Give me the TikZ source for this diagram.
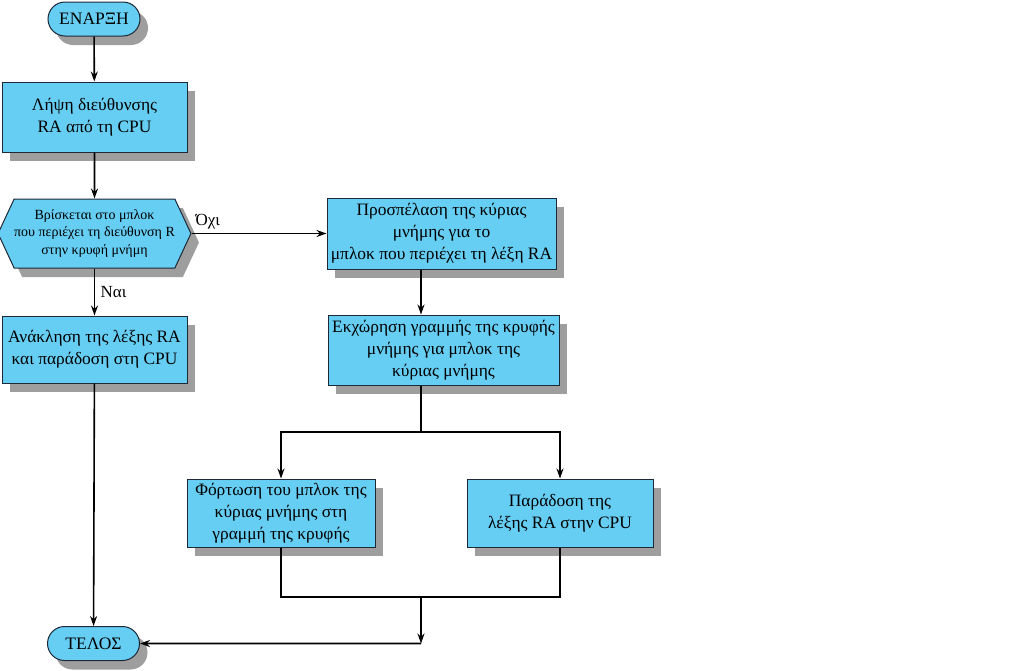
\documentclass[tikz,border=0pt]{standalone}
\usepackage{fontspec}
\setmainfont{Liberation Serif}
\usetikzlibrary{shapes.misc,shapes.symbols,shadows,arrows.meta}
\definecolor{boxblue}{RGB}{102,205,243}
\definecolor{boxline}{RGB}{30,40,55}
\definecolor{shade}{RGB}{158,158,158}
\tikzset{
    shaded/.style={drop shadow={shadow xshift=8pt, shadow yshift=-9pt, fill=shade, opacity=1}},
    stepbox/.style={shaded, draw=boxline, line width=1pt, fill=boxblue, align=center, inner sep=0pt,
        font=\fontsize{17.4}{22}\selectfont},
    termbox/.style={stepbox, rounded rectangle, minimum width=92pt, minimum height=34pt,
        font=\fontsize{17.5}{21}\selectfont},
    testbox/.style={stepbox, signal, signal to=west and east, signal pointer angle=130,
        font=\fontsize{14}{17.5}\selectfont},
    arr/.style={-{Stealth[length=10pt,width=7pt]}, line width=1.6pt},
    link/.style={line width=1.6pt},
    lbl/.style={font=\fontsize{17}{19}\selectfont}
}
\begin{document}
\begin{tikzpicture}[x=1pt, y=-1pt]
    \useasboundingbox (0,0) rectangle (1024,670);
    \node[termbox] (start) at (94,19) {ΕΝΑΡΞΗ};
    \node[stepbox, minimum width=185pt, minimum height=70pt] (get) at (94.5,117)
        {Λήψη διεύθυνσης\\RA από τη CPU};
    \node[testbox, minimum width=187pt, minimum height=69pt] (test) at (94.5,233.5)
        {Βρίσκεται στο μπλοκ\\που περιέχει τη διεύθυνση R\\στην κρυφή μνήμη};
    \node[stepbox, minimum width=185pt, minimum height=67pt] (fetch) at (94.5,349.5)
        {Ανάκληση της λέξης RA\\και παράδοση στη CPU};
    \node[stepbox, minimum width=229pt, minimum height=71pt] (access) at (441.5,233.5)
        {Προσπέλαση της κύριας\\μνήμης για το\\μπλοκ που περιέχει τη λέξη RA};
    \node[stepbox, minimum width=231pt, minimum height=70pt] (alloc) at (443.5,350)
        {Εκχώρηση γραμμής της κρυφής\\μνήμης για μπλοκ της\\κύριας μνήμης};
    \node[stepbox, minimum width=188pt, minimum height=68pt] (load) at (281,513)
        {Φόρτωση του μπλοκ της\\κύριας μνήμης στη\\γραμμή της κρυφής};
    \node[stepbox, minimum width=186pt, minimum height=68pt] (deliver) at (560,513)
        {Παράδοση της\\λέξης RA στην CPU};
    \node[termbox] (stop) at (93.5,643.5) {ΤΕΛΟΣ};
    \coordinate (spine) at (421,0);
    \coordinate (split) at (421,432);
    \coordinate (join) at (421,597);
    \coordinate (merge) at (421,643.5);
    \draw[arr] (start) -- (get);
    \draw[arr] (get) -- (test);
    \draw[arr] (test) -- node[lbl, right, xshift=2pt] {Ναι} (fetch);
    \draw[arr] (test.east) -- node[lbl, above, pos=0.12] {Όχι} (access);
    \draw[arr] (fetch) -- (stop);
    \draw[arr] (access.south -| spine) -- (alloc.north -| spine);
    \draw[link] (alloc.south -| spine) -- (split);
    \draw[arr] (split) -| (load);
    \draw[arr] (split) -| (deliver);
    \draw[link] (load) |- (join) -| (deliver);
    \draw[arr] (join) -- (merge);
    \draw[arr] (merge) -- (stop);
\end{tikzpicture}
\end{document}
